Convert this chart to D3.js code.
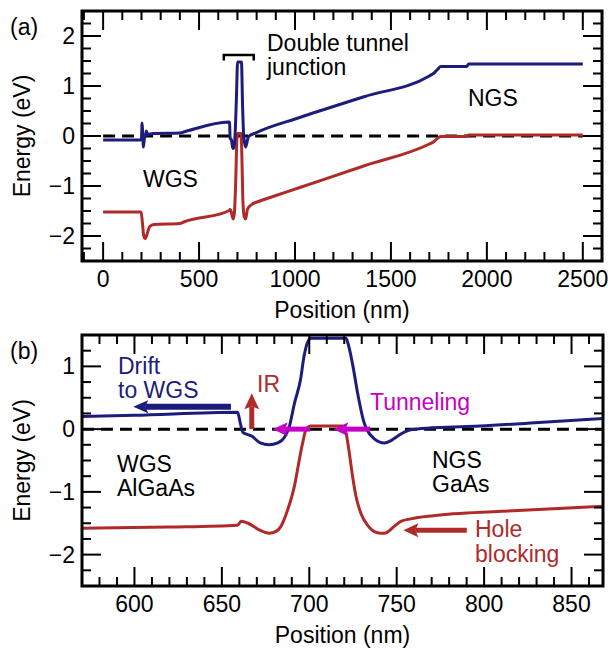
<!DOCTYPE html>
<html>
<head>
<meta charset="utf-8">
<script src="https://cdn.jsdelivr.net/npm/d3@7"></script>
<style>
  body { margin: 0; background: #fff; }
  svg text { font-family: "Liberation Sans", Arial, sans-serif; font-size: 23px; }
  svg text.note { font-size: 23px; }
</style>
</head>
<body>
<script>
const WIDTH_SVG = 608;
const HEIGHT_SVG = 650;

const NAVY = "#1c1c7c";
const RED = "#b02a2a";
const MAGENTA = "#c400c4";

// ---- data, panel (a): full structure, position (nm) / energy (eV)
const cbA = [[0,-0.08],[195,-0.08],[200,-0.05],[203,0.26],[206,0.1],[210,-0.22],[215,-0.05],[222,0.02],[226,0.1],[231,0.03],[260,0.05],
  [400,0.06],[420,0.08],[655,0.28],[659,0.27],[662,-0.05],[668,-0.07],[677,-0.25],[682,-0.22],[688,0.04],[695,0.79],[701,1.48],
  [721,1.48],[727,0.58],[733,-0.01],[743,-0.22],[750,-0.12],[758,-0.01],[800,0.07],[1025,0.37],[1360,0.785],[1700,1.2],
  [1725,1.26],[1745,1.34],[1760,1.39],[1895,1.39],[1905,1.44],[2500,1.44]];
const vbA = [[0,-1.52],[198,-1.52],[204,-1.7],[212,-2.0],[220,-2.05],[230,-1.95],[243,-1.81],[265,-1.77],[400,-1.75],[420,-1.72],
  [658,-1.49],[661,-1.47],[667,-1.5],[677,-1.66],[684,-1.55],[691,-0.92],[698,-0.01],[701,0.05],[719,0.05],[723,-0.38],
  [729,-1.34],[736,-1.62],[743,-1.66],[752,-1.47],[771,-1.38],[810,-1.31],[870,-1.23],[1025,-1.03],[1362,-0.595],[1700,-0.16],
  [1725,-0.11],[1745,-0.04],[1760,-0.01],[1895,-0.01],[1905,0.02],[2500,0.02]];

// ---- data, panel (b): tunnel junction detail
const cbB = [[570,0.2],[600,0.22],[659,0.27],[660.5,0.1],[662,-0.05],[667,-0.11],[672,-0.22],[677,-0.25],[682,-0.22],[686,-0.12],
  [688.6,0.04],[691.5,0.41],[695,0.79],[697,1.16],[699,1.38],[701,1.45],[721,1.45],[722,1.38],[725,1.0],[727.6,0.58],
  [731.4,0.1],[733,-0.01],[737,-0.15],[743,-0.22],[747,-0.18],[750,-0.12],[758,-0.01],[770,0.02],[790,0.04],[829,0.1],[868,0.17]];
const vbB = [[570,-1.58],[620,-1.56],[659,-1.53],[661,-1.47],[665,-1.5],[671,-1.6],[677,-1.66],[681,-1.63],[683.8,-1.55],
  [687.6,-1.29],[691.4,-0.92],[694.3,-0.49],[696.2,-0.22],[698.1,-0.01],[701,0.05],[719,0.05],[721,-0.06],[722.9,-0.38],
  [724.8,-0.76],[726.7,-1.07],[729.5,-1.34],[733.3,-1.53],[739,-1.65],[743,-1.66],[748.6,-1.55],[752.4,-1.47],[758,-1.43],
  [771,-1.38],[810,-1.31],[868,-1.23]];

const xTicksA = [0, 500, 1000, 1500, 2000, 2500];
const yTicksA = [-2, -1, 0, 1, 2];
const xTicksB = [600, 650, 700, 750, 800, 850];
const yTicksB = [-2, -1, 0, 1];

const MAJOR_LEN = 19;
const MINOR_LEN = 9;

const svg = d3.select("body")
  .append("svg")
    .attr("width", WIDTH_SVG)
    .attr("height", HEIGHT_SVG)
    .attr("viewBox", `0 0 ${WIDTH_SVG} ${HEIGHT_SVG}`);

function fmt(v) {
  return v < 0 ? "\u2212" + Math.abs(v) : String(v);
}

function drawPanel(p) {
  const x = d3.scaleLinear().domain(p.xDomain).range([p.left, p.right]);
  const y = d3.scaleLinear().domain(p.yDomain).range([p.bottom, p.top]);
  const g = svg.append("g");

  g.append("clipPath").attr("id", "clip-" + p.id)
    .append("rect")
      .attr("x", p.left).attr("y", p.top)
      .attr("width", p.right - p.left).attr("height", p.bottom - p.top);

  const plot = g.append("g").attr("clip-path", `url(#clip-${p.id})`);

  // zero line
  plot.append("line")
    .attr("x1", x(p.zeroFrom)).attr("x2", x(p.zeroTo))
    .attr("y1", y(0)).attr("y2", y(0))
    .attr("stroke", "#000").attr("stroke-width", 3)
    .attr("stroke-dasharray", "12,7");

  const line = d3.line()
    .x(d => x(d[0]))
    .y(d => y(d[1]))
    .curve(d3.curveMonotoneX);

  plot.append("path").datum(p.vb)
    .attr("d", line).attr("fill", "none")
    .attr("stroke", RED).attr("stroke-width", 3).attr("stroke-linejoin", "round");
  plot.append("path").datum(p.cb)
    .attr("d", line).attr("fill", "none")
    .attr("stroke", NAVY).attr("stroke-width", 3).attr("stroke-linejoin", "round");

  // ticks, inside, on all four sides
  const tk = g.append("g").attr("stroke", "#000").attr("stroke-width", 2);
  const xMinor = d3.range(Math.ceil(p.xDomain[0] / p.xMinor) * p.xMinor, p.xDomain[1] + 1e-6, p.xMinor);
  xMinor.forEach(v => {
    const major = p.xTicks.includes(v);
    const len = major ? MAJOR_LEN : MINOR_LEN;
    tk.append("line").attr("x1", x(v)).attr("x2", x(v)).attr("y1", p.bottom).attr("y2", p.bottom - len);
    tk.append("line").attr("x1", x(v)).attr("x2", x(v)).attr("y1", p.top).attr("y2", p.top + len);
  });
  const yMinor = d3.range(p.yDomain[0], p.yDomain[1] + 1e-6, 0.25);
  yMinor.forEach(v => {
    const major = p.yTicks.some(t => Math.abs(t - v) < 1e-6);
    const len = major ? MAJOR_LEN : MINOR_LEN;
    tk.append("line").attr("x1", p.left).attr("x2", p.left + len).attr("y1", y(v)).attr("y2", y(v));
    tk.append("line").attr("x1", p.right).attr("x2", p.right - len).attr("y1", y(v)).attr("y2", y(v));
  });

  // frame
  g.append("rect")
    .attr("x", p.left).attr("y", p.top)
    .attr("width", p.right - p.left).attr("height", p.bottom - p.top)
    .attr("fill", "none").attr("stroke", "#000").attr("stroke-width", 3);

  // tick labels
  g.selectAll(".xl").data(p.xTicks).enter().append("text")
    .attr("x", d => x(d)).attr("y", p.bottom + 26)
    .attr("text-anchor", "middle").text(d => d);
  g.selectAll(".yl").data(p.yTicks).enter().append("text")
    .attr("x", p.left - 7).attr("y", d => y(d) + 8)
    .attr("text-anchor", "end").text(fmt);

  // axis titles
  g.append("text")
    .attr("x", (p.left + p.right) / 2).attr("y", p.bottom + 57)
    .attr("text-anchor", "middle").text("Position (nm)");
  g.append("text")
    .attr("transform", `translate(30,${(p.top + p.bottom) / 2}) rotate(-90)`)
    .attr("text-anchor", "middle").text("Energy (eV)");

  g.append("text").attr("x", 10).attr("y", p.top + 24).text(p.label);

  return { g, x, y };
}

function arrow(g, x1, y1, x2, y2, color, shaftW, headL, headW) {
  const dx = x2 - x1, dy = y2 - y1;
  const len = Math.sqrt(dx * dx + dy * dy);
  const ux = dx / len, uy = dy / len;
  const nx = -uy, ny = ux;
  const bx = x2 - ux * headL, by = y2 - uy * headL;
  g.append("line")
    .attr("x1", x1).attr("y1", y1)
    .attr("x2", bx + ux * 3).attr("y2", by + uy * 3)
    .attr("stroke", color).attr("stroke-width", shaftW);
  const pts = [
    [x2, y2],
    [bx + nx * headW / 2, by + ny * headW / 2],
    [bx + ux * 3, by + uy * 3],
    [bx - nx * headW / 2, by - ny * headW / 2]
  ];
  g.append("polygon").attr("points", pts.map(p => p.join(",")).join(" ")).attr("fill", color);
}

function note(g, x, y, txt, color) {
  g.append("text").attr("class", "note")
    .attr("x", x).attr("y", y)
    .attr("fill", color || "#000")
    .text(txt);
}

// panel (a)
const A = drawPanel({
  id: "a", label: "(a)",
  left: 82, right: 602, top: 11, bottom: 261,
  xDomain: [-110, 2600], yDomain: [-2.5, 2.5],
  xTicks: xTicksA, yTicks: yTicksA, xMinor: 100,
  zeroFrom: 0, zeroTo: 2500,
  cb: cbA, vb: vbA
});

// bracket over the double tunnel junction
A.g.append("path")
  .attr("d", `M${A.x(629)},${A.y(1.51)} V${A.y(1.62)} H${A.x(785)} V${A.y(1.51)}`)
  .attr("fill", "none").attr("stroke", "#000").attr("stroke-width", 2.5);

note(A.g, 267, 51, "Double tunnel");
note(A.g, 267, 75, "junction");
note(A.g, 143, 187, "WGS");
note(A.g, 468, 106, "NGS");

// panel (b)
const B = drawPanel({
  id: "b", label: "(b)",
  left: 82, right: 603, top: 335, bottom: 586,
  xDomain: [570, 868], yDomain: [-2.5, 1.5],
  xTicks: xTicksB, yTicks: yTicksB, xMinor: 10,
  zeroFrom: 570, zeroTo: 868,
  cb: cbB, vb: vbB
});

arrow(B.g, B.x(655.2), B.y(0.357), B.x(599.3), B.y(0.357), NAVY, 6, 15, 13);
arrow(B.g, B.x(667.1), B.y(0.0), B.x(667.1), B.y(0.57), RED, 5, 16, 15);
arrow(B.g, B.x(700.4), B.y(0), B.x(679.1), B.y(0), MAGENTA, 5, 15, 14);
arrow(B.g, B.x(734.8), B.y(0), B.x(713.8), B.y(0), MAGENTA, 5, 15, 14);
arrow(B.g, B.x(790.1), B.y(-1.61), B.x(753.8), B.y(-1.61), RED, 5, 15, 14);

note(B.g, 118, 374, "Drift", NAVY);
note(B.g, 118, 398, "to WGS", NAVY);
note(B.g, 257, 392, "IR", RED);
note(B.g, 370, 410, "Tunneling", MAGENTA);
note(B.g, 117, 472, "WGS");
note(B.g, 117, 496, "AlGaAs");
note(B.g, 432, 468, "NGS");
note(B.g, 432, 492, "GaAs");
note(B.g, 475, 537, "Hole", RED);
note(B.g, 475, 562, "blocking", RED);
</script>
</body>
</html>
